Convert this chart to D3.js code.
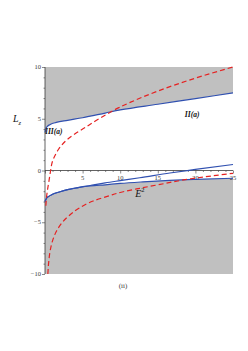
<!DOCTYPE html>
<html>
<head>
<meta charset="utf-8">
<script src="https://cdn.jsdelivr.net/npm/d3@7"></script>
<style>
  body { margin: 0; background: #fff; }
  svg { display: block; }
  svg text { font-family: "Liberation Serif", "DejaVu Serif", serif; }
</style>
</head>
<body>
<svg id="chart"></svg>
<script>
// values: [E^2, L_z]
const blueUpper = [[0, 3.65], [0.1, 4.0], [0.3, 4.25], [0.7, 4.45], [1.5, 4.65], [3, 4.85], [5, 5.1],
  [8, 5.55], [10, 5.85], [15, 6.4], [20, 6.95], [25, 7.5]];
const blueLowA = [[0, -3.0], [0.15, -2.75], [0.5, -2.5], [1, -2.3], [2, -2.05], [3, -1.85], [4.4, -1.65],
  [6, -1.45], [8, -1.2], [10, -0.98], [12.6, -0.7], [16.6, -0.24], [20, 0.1], [25, 0.58]];
const blueLowB = [[0, -3.0], [0.15, -2.75], [0.5, -2.5], [1, -2.3], [2, -2.05], [3, -1.85], [4.4, -1.65],
  [6, -1.5], [8, -1.38], [10, -1.25], [13, -1.1], [16.6, -0.95], [20, -0.85], [25, -0.75]];
const redUpper = [[0.12, -3.4], [0.2, -2.6], [0.35, -1.8], [0.53, -1.0], [0.75, 0], [1.0, 0.9], [1.4, 1.55],
  [1.8, 2.05], [2.9, 2.95], [4, 3.55], [5.1, 4.05], [7.3, 5.05], [9.9, 6.1], [13, 7.1], [17.2, 8.25],
  [21, 9.15], [25, 10]];
const redLower = [[0.38, -10], [0.5, -8.8], [0.7, -7.7], [1.0, -6.8], [1.5, -5.9], [2.2, -5.1], [3.06, -4.45],
  [4.4, -3.7], [6.4, -2.95], [8.5, -2.45], [10.4, -2.05], [12.6, -1.72], [14.9, -1.4], [19.4, -0.8], [25, -0.27]];
const xTicks = [5, 10, 15, 20, 25];
const yTicks = [-10, -5, 0, 5, 10];
const regionLabels = [{ text: 'III(a)', x: 0, y: 3.5 }, { text: 'II(a)', x: 18.6, y: 5.2 }];

const width = 248, height = 351;
const svg = d3.select('#chart').attr('width', width).attr('height', height);

const x = d3.scaleLinear().domain([0, 25]).range([45, 233]);
const y = d3.scaleLinear().domain([-10, 10]).range([274, 67]);

const line = d3.line().x(d => x(d[0])).y(d => y(d[1])).curve(d3.curveMonotoneX);
const lineY = d3.line().x(d => x(d[0])).y(d => y(d[1])).curve(d3.curveMonotoneY);

// shaded regions
const gray = '#c0c0c0';
svg.append('path')
  .attr('d', d3.area().x(d => x(d[0])).y0(y(10)).y1(d => y(d[1])).curve(d3.curveMonotoneX)(blueUpper))
  .attr('fill', gray);
svg.append('path')
  .attr('d', d3.area().x(d => x(d[0])).y0(y(-10)).y1(d => y(d[1])).curve(d3.curveMonotoneX)(blueLowB))
  .attr('fill', gray);

// axes
const axisColor = '#3a3a3a';
const xAxis = svg.append('g').attr('transform', `translate(0,${y(0)})`);
xAxis.call(d3.axisBottom(x).tickValues(d3.range(0, 26)).tickSize(1.5).tickFormat(''));
xAxis.call(g => g.select('.domain').remove());
xAxis.append('line').attr('x1', x(0)).attr('x2', x(25)).attr('stroke', axisColor).attr('stroke-width', 0.8);
xAxis.selectAll('.tick line').attr('stroke', axisColor).attr('stroke-width', 0.6)
  .attr('y2', d => d % 5 === 0 ? 3 : 1.5);
xAxis.selectAll('.lbl').data(xTicks).join('text')
  .attr('x', d => x(d)).attr('y', 9.5)
  .attr('text-anchor', 'middle').attr('font-size', 6.5).attr('fill', axisColor)
  .text(d => d);

const yAxis = svg.append('g').attr('transform', `translate(${x(0)},0)`);
yAxis.call(d3.axisLeft(y).tickValues(d3.range(-10, 11)).tickSize(1.5).tickFormat(''));
yAxis.call(g => g.select('.domain').remove());
yAxis.append('line').attr('y1', y(-10)).attr('y2', y(10)).attr('stroke', axisColor).attr('stroke-width', 0.8);
yAxis.selectAll('.tick line').attr('stroke', axisColor).attr('stroke-width', 0.6)
  .attr('x2', d => d % 5 === 0 ? -3 : -1.5);
yAxis.selectAll('.lbl').data(yTicks).join('text')
  .attr('x', -4).attr('y', d => y(d)).attr('dy', '0.33em')
  .attr('text-anchor', 'end').attr('font-size', 6.5).attr('fill', axisColor)
  .text(d => d < 0 ? '\u2212' + Math.abs(d) : d);

// curves
const blue = '#3050b0', red = '#e52222';
[blueUpper, blueLowA, blueLowB].forEach(s => {
  svg.append('path').attr('d', line(s)).attr('fill', 'none')
    .attr('stroke', blue).attr('stroke-width', 1.2);
});
[redUpper, redLower].forEach(s => {
  svg.append('path').attr('d', lineY(s)).attr('fill', 'none')
    .attr('stroke', red).attr('stroke-width', 1.2).attr('stroke-dasharray', '5,3');
});

// region labels
svg.selectAll('.region').data(regionLabels).join('text')
  .attr('x', d => x(d.x)).attr('y', d => y(d.y))
  .attr('font-size', 7.5).attr('font-style', 'italic').attr('font-weight', 'bold').attr('fill', '#111')
  .text(d => d.text);

// axis titles
const lz = svg.append('text').attr('x', 13).attr('y', 122)
  .attr('font-size', 10).attr('font-style', 'italic').attr('fill', '#111');
lz.append('tspan').text('L');
lz.append('tspan').attr('font-size', 6.5).attr('dy', 2.5).text('z');

const e2 = svg.append('text').attr('x', x(12)).attr('y', 197)
  .attr('font-size', 10).attr('font-style', 'italic').attr('fill', '#111');
e2.append('tspan').text('E');
e2.append('tspan').attr('font-size', 6.5).attr('font-style', 'normal').attr('dy', -5).text('2');

svg.append('text').attr('x', 123).attr('y', 288).attr('text-anchor', 'middle')
  .attr('font-size', 7).attr('fill', axisColor).text('(ii)');
</script>
</body>
</html>
